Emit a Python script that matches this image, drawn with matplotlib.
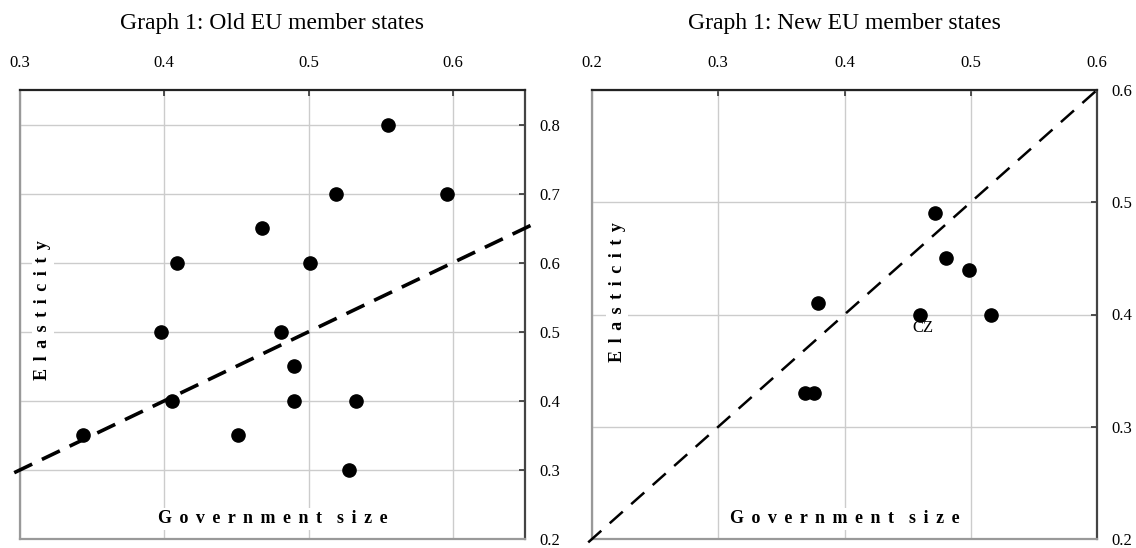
import matplotlib
matplotlib.use("Agg")
import matplotlib.pyplot as plt

plt.rcParams['font.family'] = ['Liberation Serif', 'DejaVu Serif']

# Old EU member states: government size vs. elasticity
old_size = [0.344, 0.398, 0.405, 0.409, 0.451, 0.468, 0.481, 0.490,
            0.490, 0.501, 0.519, 0.528, 0.533, 0.555, 0.596]
old_elast = [0.35, 0.50, 0.40, 0.60, 0.35, 0.65, 0.50, 0.45,
             0.40, 0.60, 0.70, 0.30, 0.40, 0.80, 0.70]

# New EU member states
new_size = [0.369, 0.376, 0.379, 0.460, 0.472, 0.480, 0.499, 0.516]
new_elast = [0.33, 0.33, 0.41, 0.40, 0.49, 0.45, 0.44, 0.40]
new_names = ['', '', '', 'CZ', '', '', '', '']

old_xticks = [0.3, 0.4, 0.5, 0.6]
old_yticks = [0.2, 0.3, 0.4, 0.5, 0.6, 0.7, 0.8]
new_xticks = [0.2, 0.3, 0.4, 0.5, 0.6]
new_yticks = [0.2, 0.3, 0.4, 0.5, 0.6]

fig = plt.figure(figsize=(11.36, 5.48), dpi=100)
ax1 = fig.add_axes([20 / 1136, 9 / 548, 505 / 1136, 449 / 548])
ax2 = fig.add_axes([592 / 1136, 9 / 548, 505 / 1136, 449 / 548])

GAP = ' \u2006'   # letter spacing used in the axis captions


def spaced(s):
    return GAP.join(s)


def style_panel(ax, xlim, ylim, xticks, yticks, title, label_x, label_y):
    ax.set_xlim(*xlim)
    ax.set_ylim(*ylim)
    ax.set_xticks(xticks)
    ax.set_yticks(yticks)
    ax.set_xticklabels([f'{t:.1f}' for t in xticks])
    ax.set_yticklabels([f'{t:.1f}' for t in yticks])
    ax.xaxis.tick_top()
    ax.yaxis.tick_right()
    ax.tick_params(axis='x', direction='in', length=4, width=1.2,
                   color='#333333', labelsize=12, pad=14)
    ax.tick_params(axis='y', direction='in', length=4, width=1.2,
                   color='#333333', labelsize=12, pad=10)
    ax.grid(True, color='#cccccc', linewidth=1)
    ax.set_axisbelow(True)
    ax.spines['top'].set_color('#222222')
    ax.spines['right'].set_color('#444444')
    ax.spines['left'].set_color('#999999')
    ax.spines['bottom'].set_color('#999999')
    for s in ax.spines.values():
        s.set_linewidth(1.6)
    ax.text(0.5, 1.149, title, transform=ax.transAxes, ha='center',
            va='center', fontsize=17)
    box = dict(facecolor='white', edgecolor='none', pad=2)
    ax.text(0.5, 0.045, spaced('Government') + GAP + GAP + spaced('size'),
            transform=ax.transAxes, ha='center', va='center',
            fontsize=13, fontweight='bold', bbox=box, zorder=3)
    ax.text(label_x, label_y, spaced('Elasticity'), transform=ax.transAxes,
            ha='center', va='center', rotation=90, fontsize=13,
            fontweight='bold', bbox=box, zorder=3)


style_panel(ax1, (0.3, 0.65), (0.2, 0.85), old_xticks, old_yticks,
            'Graph 1: Old EU member states', 0.045, 0.51)
style_panel(ax2, (0.2, 0.6), (0.2, 0.6), new_xticks, new_yticks,
            'Graph 1: New EU member states', 0.05, 0.55)

# 45-degree reference lines
ax1.plot([0.296, 0.655], [0.296, 0.655], color='black', lw=2.6,
         dashes=(5.5, 3), clip_on=False, zorder=4)
ax2.plot([0.197, 0.6], [0.197, 0.6], color='black', lw=1.8,
         dashes=(7, 4.5), clip_on=False, zorder=4)

ax1.plot(old_size, old_elast, 'o', color='black', ms=9.5, zorder=5)
ax2.plot(new_size, new_elast, 'o', color='black', ms=9.5, zorder=5)

for x, y, name in zip(new_size, new_elast, new_names):
    if name:
        ax2.annotate(name, (x, y), xytext=(2, -10), textcoords='offset points',
                     ha='center', va='center', fontsize=12)

fig.savefig('out.png', dpi=100)
